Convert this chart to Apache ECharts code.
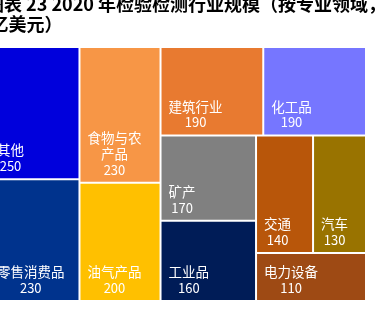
<!DOCTYPE html>
<html>
<head>
<meta charset="utf-8">
<script src="https://cdn.jsdelivr.net/npm/echarts@6/dist/echarts.min.js"></script>
<style>
html,body{margin:0;padding:0;background:#fff;}
#chart{width:375px;height:322px;}
</style>
</head>
<body>
<div id="chart"></div>
<script>
// ---- data ----
const titleLine1 = '图表 23 2020 年检验检测行业规模（按专业领域，';
const titleLine2 = '亿美元）';
const categories = ['其他', '零售消费品', '食物与农产品', '油气产品', '建筑行业', '化工品', '矿产', '工业品', '交通', '汽车', '电力设备'];
const values = [250, 230, 230, 200, 190, 190, 170, 160, 140, 130, 110];
// slicing order of the tiles (indices into categories), nested as in the reference
const groupTree = [[0, 1], [[2, 3], [4, 5, 6, 7, 8, 9, 10]]];
// where long names wrap (character positions)
const nameBreaks = { '食物与农产品': [4] };

// ---- styles ----
const colors = ['#0000DC', '#00338D', '#F79646', '#FFC000', '#E87A30', '#7676FF', '#808080', '#001C57', '#B8560A', '#997300', '#9E4A14'];
const FONT = '"Noto Sans CJK SC"';
const NAME_SIZE = 13.5, VALUE_SIZE = 13, LINE_H = 16;
const INSET = 7, BOTTOM_GAP = 12;

function nameLines(name) {
  const br = nameBreaks[name];
  if (!br) return [name];
  const out = []; let s = 0;
  br.forEach(b => { out.push(name.slice(s, b)); s = b; });
  out.push(name.slice(s));
  return out;
}
function labelLines(name, value) { return nameLines(name).concat([String(value)]); }

const ctx = document.createElement('canvas').getContext('2d');
function leaf(i) {
  const lines = labelLines(categories[i], values[i]);
  const sizes = lines.map((t, k) => k < lines.length - 1 ? NAME_SIZE : VALUE_SIZE);
  const widths = lines.map((t, k) => { ctx.font = sizes[k] + 'px ' + FONT; return ctx.measureText(t).width; });
  const maxW = Math.max.apply(null, widths);
  const rich = {};
  lines.forEach((t, k) => {
    rich['l' + k] = {
      color: '#fff', fontFamily: FONT, fontSize: sizes[k], lineHeight: LINE_H,
      padding: [0, 0, 0, (maxW - widths[k]) / 2]
    };
  });
  return { name: categories[i], value: values[i], itemStyle: { color: colors[i] }, label: { rich: rich } };
}
function build(node) {
  if (typeof node === 'number') return leaf(node);
  return { name: '', children: node.map(build) };
}
const treeData = groupTree.map(build);

const chart = echarts.init(document.getElementById('chart'), null, { renderer: 'canvas' });
chart.setOption({
  animation: false,
  title: [
    { text: titleLine1, left: -14, top: -6, padding: 0,
      textStyle: { fontFamily: FONT, fontSize: 18, fontWeight: 'bold', color: '#000', lineHeight: 20 } },
    { text: titleLine2, left: -9.5, top: 14, padding: 0,
      textStyle: { fontFamily: FONT, fontSize: 18, fontWeight: 'bold', color: '#000', lineHeight: 20 } }
  ],
  series: [{
    type: 'treemap',
    left: -10, right: 10, top: 48, bottom: 22,
    sort: false,
    squareRatio: 1.1187,
    roam: false,
    nodeClick: false,
    breadcrumb: { show: false },
    itemStyle: { borderWidth: 0, gapWidth: 2, borderColor: '#fff' },
    emphasis: { disabled: true },
    label: {
      show: true,
      position: 'insideTopLeft',
      distance: INSET,
      padding: 0,
      overflow: 'none',
      color: '#fff',
      fontFamily: FONT,
      formatter: p => labelLines(p.name, p.value).map((t, k) => '{l' + k + '|' + t + '}').join('\n')
    },
    labelLayout: p => {
      const n = (String(p.text).match(/\n/g) || []).length + 1;
      return { dy: p.rect.height - BOTTOM_GAP - INSET - (n - 0.5) * LINE_H };
    },
    data: treeData
  }]
});
</script>
</body>
</html>
